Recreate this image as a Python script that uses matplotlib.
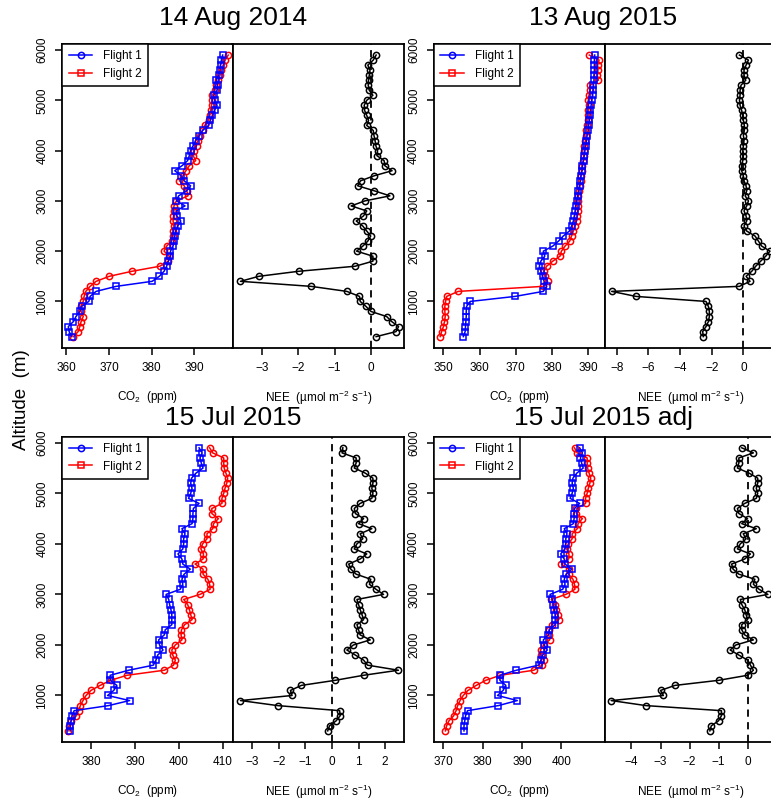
import matplotlib
matplotlib.use("Agg")
import matplotlib.pyplot as plt
from matplotlib.lines import Line2D

plt.rcParams['font.family'] = ['Liberation Sans', 'DejaVu Sans']
plt.rcParams['mathtext.default'] = 'regular'

# altitude levels (m), bottom to top
alt = [300, 400, 500, 600, 700, 800, 900, 1000, 1100, 1200,
       1300, 1400, 1500, 1600, 1700, 1800, 1900, 2000, 2100, 2200,
       2300, 2400, 2500, 2600, 2700, 2800, 2900, 3000, 3100, 3200,
       3300, 3400, 3500, 3600, 3700, 3800, 3900, 4000, 4100, 4200,
       4300, 4400, 4500, 4600, 4700, 4800, 4900, 5000, 5100, 5200,
       5300, 5400, 5500, 5600, 5700, 5800, 5900]

# 14 Aug 2014
co2_f1_a = [361.3, 360.7, 360.5, 361.7, 362.3, 363.2, 363.6, 365.3, 365.6, 367.0,
            371.7, 380.1, 381.8, 382.9, 383.5, 383.9, 384.4, 384.4, 385.0, 385.2,
            385.4, 385.6, 386.1, 386.8, 385.9, 385.7, 387.8, 385.8, 386.3, 388.2,
            389.1, 387.6, 386.9, 385.4, 387.1, 388.4, 388.8, 389.1, 389.7, 390.3,
            391.1, 391.9, 393.3, 393.7, 394.2, 394.7, 395.3, 394.7, 394.5, 395.3,
            395.4, 395.1, 395.7, 396.0, 396.1, 396.3, 396.6]
co2_f2_a = [361.7, 362.8, 363.2, 363.5, 364.0, 363.5, 363.4, 364.0, 364.2, 364.6,
            365.6, 367.0, 370.1, 375.4, 381.9, 383.9, 384.1, 382.9, 383.5, 384.7,
            385.0, 385.1, 385.2, 385.0, 385.1, 385.2, 385.2, 385.8, 388.5, 388.2,
            387.6, 386.5, 387.3, 388.0, 388.8, 390.3, 389.7, 390.0, 390.5, 390.8,
            391.2, 391.9, 392.4, 393.3, 393.6, 393.8, 394.0, 394.2, 394.2, 394.8,
            395.0, 395.6, 396.0, 396.3, 396.7, 397.2, 397.9]
nee_a = [0.15, 0.70, 0.77, 0.58, 0.44, 0.01, -0.13, -0.29, -0.31, -0.66,
         -1.65, -3.60, -3.09, -1.99, -0.43, 0.06, 0.06, -0.39, -0.22, -0.08,
         0.00, -0.11, -0.22, -0.40, -0.20, -0.11, -0.54, -0.16, 0.53, 0.10,
         -0.36, -0.28, 0.10, 0.59, 0.39, 0.37, 0.17, 0.19, 0.14, 0.12,
         0.09, 0.07, -0.11, -0.06, -0.11, -0.17, -0.18, -0.11, 0.06, -0.04,
         -0.07, -0.06, -0.04, -0.02, -0.08, 0.07, 0.15]

# 13 Aug 2015
co2_f1_b = [355.5, 356.0, 356.1, 356.2, 356.3, 356.3, 356.4, 357.4, 369.8, 377.6,
            378.5, 377.8, 377.4, 376.9, 376.5, 376.9, 378.0, 377.6, 380.2, 381.8,
            383.1, 384.8, 385.4, 385.9, 386.2, 386.4, 386.6, 386.8, 387.1, 387.3,
            387.6, 387.8, 388.0, 388.3, 388.4, 388.7, 388.9, 389.1, 389.3, 389.5,
            389.7, 390.0, 390.1, 390.3, 390.5, 390.6, 390.8, 391.0, 391.2, 391.3,
            391.4, 391.6, 391.6, 391.7, 391.7, 391.7, 391.8]
co2_f2_b = [349.1, 349.5, 350.0, 350.3, 350.5, 350.4, 350.4, 350.6, 350.9, 354.1,
            377.6, 378.8, 378.0, 377.8, 378.5, 380.2, 382.2, 382.6, 383.6, 384.9,
            385.4, 385.9, 386.3, 386.8, 387.0, 387.1, 387.1, 387.2, 387.3, 387.5,
            387.7, 387.9, 388.0, 388.2, 388.3, 388.6, 388.8, 388.9, 388.9, 389.2,
            389.4, 389.5, 389.7, 389.9, 390.0, 390.0, 390.1, 390.0, 390.2, 390.5,
            390.6, 392.8, 392.5, 392.7, 392.6, 393.0, 390.3]
nee_b = [-2.53, -2.57, -2.36, -2.21, -2.15, -2.15, -2.21, -2.36, -6.78, -8.32,
         -0.25, 0.42, 0.17, 0.53, 0.78, 1.09, 1.41, 1.68, 1.16, 0.95,
         0.74, 0.21, 0.04, 0.21, 0.17, 0.04, 0.21, 0.32, 0.11, 0.21,
         0.17, 0.04, 0.00, -0.11, -0.11, -0.04, 0.00, -0.04, 0.00, 0.04,
         0.00, 0.06, 0.06, 0.00, -0.04, -0.11, -0.21, -0.25, -0.21, -0.21,
         -0.15, 0.15, 0.04, 0.04, 0.17, 0.32, -0.25]

# 15 Jul 2015
co2_f1_c = [375.3, 375.3, 375.5, 375.7, 376.2, 384.0, 388.8, 383.8, 385.2, 385.9,
            384.4, 384.4, 388.6, 394.2, 394.8, 395.2, 396.4, 395.6, 395.4, 396.7,
            396.9, 398.4, 398.4, 398.4, 398.2, 397.9, 397.7, 397.1, 400.3, 400.9,
            400.7, 401.2, 402.6, 400.9, 400.7, 399.8, 400.9, 401.1, 401.1, 401.4,
            400.7, 403.0, 403.2, 403.2, 403.3, 404.6, 402.2, 402.7, 403.0, 402.7,
            402.9, 403.9, 405.5, 405.1, 404.8, 405.3, 404.6]
co2_f2_c = [374.8, 375.0, 375.5, 376.7, 377.2, 377.6, 378.2, 378.9, 380.0, 382.1,
            384.5, 388.2, 396.7, 398.8, 399.2, 398.6, 398.4, 399.2, 400.7, 400.5,
            400.6, 401.3, 403.0, 402.7, 402.4, 402.0, 401.1, 404.8, 407.1, 407.0,
            406.6, 405.5, 405.5, 403.7, 405.5, 405.6, 405.0, 405.4, 406.4, 406.4,
            407.7, 407.9, 409.0, 407.5, 407.5, 409.8, 409.8, 410.2, 410.5, 410.9,
            411.1, 410.7, 410.3, 410.2, 410.2, 407.7, 407.0]
nee_c = [-0.16, -0.09, 0.16, 0.31, 0.29, -2.04, -3.44, -1.50, -1.56, -1.15,
         0.12, 1.19, 2.50, 1.34, 1.19, 0.88, 0.56, 0.81, 1.44, 1.06,
         1.00, 0.94, 1.19, 1.13, 1.06, 1.00, 0.94, 1.94, 1.66, 1.41,
         1.46, 0.91, 0.71, 0.63, 1.06, 1.31, 0.84, 0.94, 1.16, 1.06,
         1.50, 1.00, 1.19, 0.88, 0.84, 1.06, 1.50, 1.54, 1.50, 1.54,
         1.54, 1.25, 0.84, 0.91, 0.91, 0.38, 0.41]

# 15 Jul 2015 adj
co2_f1_d = co2_f1_c
co2_f2_d = [370.6, 370.9, 371.5, 372.7, 373.3, 373.7, 374.3, 375.1, 376.3, 378.4,
            380.8, 384.5, 393.0, 395.1, 395.5, 394.9, 394.7, 395.5, 397.0, 396.8,
            396.9, 397.6, 399.3, 399.0, 398.7, 398.3, 397.4, 401.1, 403.4, 403.3,
            402.9, 401.8, 401.8, 400.0, 401.8, 401.9, 401.3, 401.7, 402.7, 402.7,
            404.0, 404.2, 405.3, 403.8, 403.8, 406.1, 406.1, 406.5, 406.8, 407.2,
            407.4, 407.0, 406.6, 406.5, 406.5, 404.0, 403.3]
nee_d = [-1.30, -1.25, -1.00, -0.90, -0.90, -3.50, -4.70, -2.90, -3.00, -2.50,
         -1.00, 0.00, 0.20, 0.10, 0.00, -0.30, -0.60, -0.40, 0.20, -0.10,
         -0.20, -0.20, 0.00, -0.05, -0.10, -0.20, -0.25, 0.70, 0.40, 0.20,
         0.25, -0.30, -0.50, -0.55, -0.10, 0.10, -0.35, -0.25, -0.05, -0.15,
         0.30, -0.20, 0.00, -0.30, -0.35, -0.10, 0.30, 0.35, 0.30, 0.35,
         0.35, 0.05, -0.35, -0.30, -0.30, 0.20, -0.20]

titles = ["14 Aug 2014", "13 Aug 2015", "15 Jul 2015", "15 Jul 2015 adj"]
flight1 = [co2_f1_a, co2_f1_b, co2_f1_c, co2_f1_d]
flight2 = [co2_f2_a, co2_f2_b, co2_f2_c, co2_f2_d]
nee_all = [nee_a, nee_b, nee_c, nee_d]
co2_lims = [(359.1, 398.9), (347.4, 394.5), (373.5, 412.2), (367.7, 410.9)]
co2_ticks = [[360, 370, 380, 390], [350, 360, 370, 380, 390],
             [380, 390, 400, 410], [370, 380, 390, 400]]
nee_lims = [(-3.82, 0.92), (-8.77, 2.06), (-3.74, 2.71), (-4.93, 0.98)]
nee_ticks = [[-3, -2, -1, 0], [-8, -6, -4, -2, 0],
             [-3, -2, -1, 0, 1, 2], [-4, -3, -2, -1, 0]]

W, H = 771, 800
fig = plt.figure(figsize=(W / 100, H / 100), dpi=100)

# panel edges in pixels
col_x = [(62.3, 232.5, 404.0), (434.0, 604.5, 776.0)]
row_y = [(44.0, 347.7), (436.7, 742.0)]
title_x = [233, 603]
title_y = [18, 418]


def style(ax):
    for s in ax.spines.values():
        s.set_linewidth(1.3)
    ax.tick_params(direction='out', length=5, width=1.1, labelsize=8.5, pad=5)


for k in range(4):
    r, c = divmod(k, 2)
    x0, x1, x2 = col_x[c]
    ytop, ybot = row_y[r]
    b = 1 - ybot / H
    h = (ybot - ytop) / H

    # CO2 profiles
    ax = fig.add_axes([x0 / W, b, (x1 - x0) / W, h])
    ax.plot(flight2[k], alt, color='red', lw=1.1, marker='o', ms=4.5, mfc='none', mew=1.1)
    ax.plot(flight1[k], alt, color='blue', lw=1.1, marker='s', ms=4.5, mfc='none', mew=1.1)
    ax.set_xlim(co2_lims[k])
    ax.set_ylim(80, 6120)
    ax.set_xticks(co2_ticks[k])
    ax.set_yticks([1000, 2000, 3000, 4000, 5000, 6000])
    ax.set_yticklabels(['1000', '2000', '3000', '4000', '5000', '6000'],
                       rotation=90, va='center')
    ax.set_xlabel('CO$_2$  (ppm)', fontsize=8.5, labelpad=11)
    style(ax)
    handles = [Line2D([], [], color='blue', lw=1.1, marker='o', ms=4.5, mfc='none', mew=1.1),
               Line2D([], [], color='red', lw=1.1, marker='s', ms=4.5, mfc='none', mew=1.1)]
    leg = ax.legend(handles, ['Flight 1', 'Flight 2'], loc='upper left', fontsize=8.5,
                    borderaxespad=0, fancybox=False, framealpha=1, edgecolor='black',
                    handlelength=2.0, handletextpad=0.9, borderpad=0.55, labelspacing=0.45)
    leg.get_frame().set_linewidth(1.1)

    # NEE profile
    ax2 = fig.add_axes([x1 / W, b, (x2 - x1) / W, h])
    ax2.axvline(0, color='black', lw=1.3, ls=(0, (4, 3)))
    ax2.plot(nee_all[k], alt, color='black', lw=1.1, marker='o', ms=4.5, mfc='none', mew=1.1)
    ax2.set_xlim(nee_lims[k])
    ax2.set_ylim(80, 6120)
    ax2.set_xticks(nee_ticks[k])
    ax2.set_yticks([])
    ax2.set_xlabel('NEE  (µmol m$^{-2}$ s$^{-1}$)', fontsize=8.5, labelpad=11)
    style(ax2)

    fig.text(title_x[c] / W, 1 - title_y[r] / H, titles[k], fontsize=19,
             ha='center', va='center')

fig.text(22 / W, 0.5, 'Altitude  (m)', rotation=90, fontsize=13.5, ha='center', va='center')

fig.savefig('out.png', dpi=100)
